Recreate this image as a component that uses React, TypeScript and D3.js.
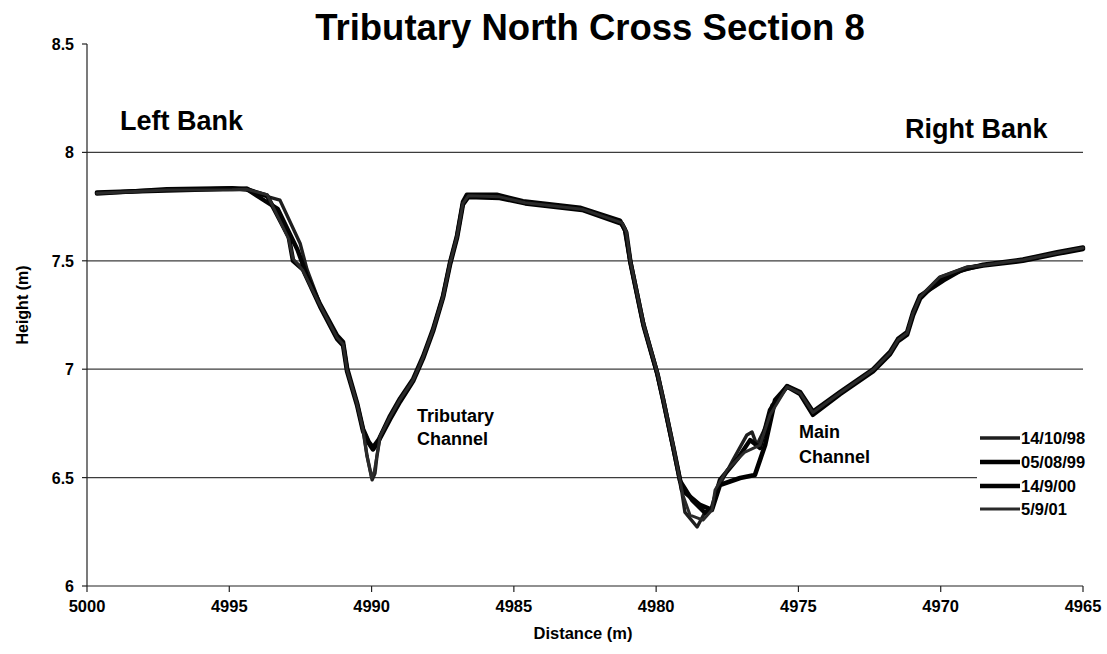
import React from "react";
import * as d3 from "d3";

const W = 1107;
const H = 654;
const M = { top: 44, right: 24, bottom: 68, left: 87 };

const xTicks = [5000, 4995, 4990, 4985, 4980, 4975, 4970, 4965];
const yTicks = [6, 6.5, 7, 7.5, 8, 8.5];
const yTickLabels = ["6", "6.5", "7", "7.5", "8", "8.5"];
const gridValues = [6.5, 7, 7.5, 8];

const seriesNames = ["14/10/98", "05/08/99", "14/9/00", "5/9/01"];

const dist98 = [4999.65, 4997.2, 4994.9, 4994.38, 4994.03, 4993.22, 4992.51, 4992.27, 4991.81, 4991.21, 4991.0, 4990.86, 4990.51, 4990.3, 4990.16, 4989.98, 4989.88, 4989.81, 4989.7, 4989.35, 4989.0, 4988.54, 4988.19, 4987.84, 4987.49, 4987.24, 4987.0, 4986.79, 4986.65, 4985.6, 4984.68, 4982.68, 4981.27, 4981.1, 4980.92, 4980.46, 4979.97, 4979.76, 4979.41, 4979.16, 4978.99, 4978.56, 4978.28, 4978.04, 4977.86, 4977.3, 4976.81, 4976.63, 4976.46, 4976.17, 4975.93, 4975.4, 4974.94, 4974.49, 4973.54, 4972.38, 4971.78, 4971.5, 4971.18, 4970.97, 4970.73, 4970.03, 4969.08, 4968.51, 4967.11, 4965.91, 4965.0];
const height98 = [7.813, 7.827, 7.83, 7.836, 7.81, 7.78, 7.58, 7.46, 7.3, 7.15, 7.12, 7.0, 6.84, 6.72, 6.6, 6.49, 6.52, 6.6, 6.69, 6.78, 6.86, 6.95, 7.056, 7.18, 7.333, 7.49, 7.61, 7.767, 7.8, 7.8, 7.77, 7.74, 7.68, 7.64, 7.5, 7.21, 6.98, 6.86, 6.64, 6.49, 6.341, 6.272, 6.341, 6.351, 6.443, 6.581, 6.697, 6.71, 6.65, 6.729, 6.835, 6.918, 6.89, 6.8, 6.89, 6.996, 7.075, 7.135, 7.167, 7.259, 7.333, 7.425, 7.471, 7.48, 7.504, 7.536, 7.559];

const dist99 = [4999.65, 4997.2, 4994.9, 4994.4, 4993.67, 4992.91, 4992.76, 4992.41, 4991.81, 4991.21, 4991.0, 4990.86, 4990.51, 4990.3, 4990.1, 4989.95, 4989.75, 4989.35, 4989.0, 4988.54, 4988.19, 4987.84, 4987.49, 4987.24, 4987.0, 4986.79, 4986.6, 4985.5, 4984.6, 4982.6, 4981.2, 4981.05, 4980.9, 4980.44, 4979.95, 4979.74, 4979.39, 4979.09, 4978.46, 4978.04, 4977.76, 4977.05, 4976.53, 4976.17, 4975.82, 4975.4, 4974.94, 4974.49, 4973.54, 4972.38, 4971.78, 4971.5, 4971.18, 4970.97, 4970.73, 4970.0, 4969.08, 4968.51, 4967.11, 4965.91, 4965.0];
const height99 = [7.815, 7.825, 7.832, 7.83, 7.8, 7.61, 7.5, 7.46, 7.29, 7.14, 7.11, 6.99, 6.835, 6.715, 6.66, 6.63, 6.67, 6.77, 6.85, 6.945, 7.05, 7.175, 7.33, 7.485, 7.605, 7.76, 7.795, 7.79, 7.765, 7.735, 7.67, 7.63, 7.49, 7.2, 6.975, 6.85, 6.635, 6.443, 6.374, 6.351, 6.466, 6.498, 6.512, 6.65, 6.858, 6.92, 6.885, 6.79, 6.885, 6.99, 7.07, 7.13, 7.16, 7.25, 7.325, 7.42, 7.465, 7.478, 7.5, 7.532, 7.555];

const dist00 = [4999.65, 4997.2, 4994.9, 4994.38, 4994.03, 4993.3, 4992.6, 4992.3, 4991.81, 4991.21, 4991.0, 4990.86, 4990.51, 4990.3, 4990.1, 4989.95, 4989.75, 4989.35, 4989.0, 4988.54, 4988.19, 4987.84, 4987.49, 4987.24, 4987.0, 4986.79, 4986.65, 4985.6, 4984.68, 4982.68, 4981.27, 4981.1, 4980.92, 4980.46, 4979.97, 4979.76, 4979.41, 4979.16, 4978.74, 4978.28, 4978.04, 4977.76, 4977.12, 4976.7, 4976.35, 4976.0, 4975.4, 4974.94, 4974.49, 4973.54, 4972.38, 4971.78, 4971.5, 4971.18, 4970.97, 4970.73, 4969.9, 4969.3, 4968.51, 4967.11, 4965.91, 4965.0];
const height00 = [7.81, 7.83, 7.835, 7.83, 7.8, 7.74, 7.55, 7.44, 7.3, 7.155, 7.125, 7.005, 6.845, 6.725, 6.665, 6.64, 6.675, 6.785, 6.865, 6.955, 7.06, 7.185, 7.338, 7.495, 7.615, 7.772, 7.805, 7.805, 7.775, 7.745, 7.685, 7.645, 7.505, 7.215, 6.985, 6.865, 6.645, 6.485, 6.397, 6.337, 6.36, 6.489, 6.59, 6.673, 6.637, 6.812, 6.922, 6.895, 6.805, 6.895, 7.0, 7.08, 7.14, 7.172, 7.264, 7.338, 7.41, 7.455, 7.482, 7.506, 7.54, 7.562];

const dist01 = [4999.65, 4997.2, 4994.9, 4994.4, 4993.67, 4992.91, 4992.76, 4992.41, 4991.81, 4991.21, 4991.0, 4990.86, 4990.51, 4990.3, 4990.16, 4990.0, 4989.9, 4989.8, 4989.7, 4989.35, 4989.0, 4988.54, 4988.19, 4987.84, 4987.49, 4987.24, 4987.0, 4986.79, 4986.6, 4985.5, 4984.6, 4982.6, 4981.2, 4981.05, 4980.9, 4980.44, 4979.95, 4979.74, 4979.39, 4979.06, 4978.81, 4978.35, 4978.04, 4977.93, 4977.51, 4976.88, 4976.35, 4976.0, 4975.4, 4974.94, 4974.49, 4973.54, 4972.38, 4971.78, 4971.5, 4971.18, 4970.97, 4970.73, 4970.03, 4969.08, 4968.51, 4967.11, 4965.91, 4965.0];
const height01 = [7.812, 7.826, 7.828, 7.83, 7.805, 7.6, 7.51, 7.455, 7.295, 7.145, 7.115, 6.995, 6.84, 6.72, 6.6, 6.5, 6.53, 6.61, 6.69, 6.78, 6.86, 6.95, 7.055, 7.18, 7.332, 7.49, 7.61, 7.765, 7.8, 7.795, 7.768, 7.738, 7.675, 7.635, 7.495, 7.205, 6.98, 6.855, 6.64, 6.42, 6.327, 6.304, 6.351, 6.443, 6.535, 6.618, 6.65, 6.789, 6.918, 6.89, 6.8, 6.89, 6.996, 7.075, 7.135, 7.167, 7.259, 7.333, 7.425, 7.471, 7.48, 7.504, 7.536, 7.559];

const seriesDist = [dist98, dist99, dist00, dist01];
const seriesHeight = [height98, height99, height00, height01];
const seriesStroke = ["#1e1e1e", "#000000", "#030303", "#2a2a2a"];
const seriesWidth = [3.4, 4.6, 4.4, 3];

const FONT = "'Liberation Sans', Arial, Helvetica, sans-serif";

export default function App() {
  const x = d3.scaleLinear().domain([5000, 4965]).range([M.left, W - M.right]);
  const y = d3.scaleLinear().domain([6, 8.5]).range([H - M.bottom, M.top]);

  const line = d3
    .line<[number, number]>()
    .x((d) => x(d[0]))
    .y((d) => y(d[1]));

  const paths = seriesDist.map((ds, i) =>
    line(ds.map((d, j) => [d, seriesHeight[i][j]] as [number, number]))
  );

  const legendX = 980;
  const legendY = [438, 462, 486, 509];

  return (
    <div style={{ position: "absolute", left: 0, top: 0, background: "#fff" }}>
      <svg width={W} height={H} style={{ display: "block", fontFamily: FONT }}>
        <rect x={0} y={0} width={W} height={H} fill="#fff" />
        {gridValues.map((g) => (
          <line key={g} x1={x(5000)} x2={x(4965)} y1={y(g)} y2={y(g)} stroke="#3c3c3c" strokeWidth={1.2} />
        ))}
        <line x1={x(5000)} x2={x(5000)} y1={y(8.5)} y2={y(6)} stroke="#222" strokeWidth={1.2} />
        <line x1={x(5000)} x2={x(4965)} y1={y(6)} y2={y(6)} stroke="#222" strokeWidth={1.2} />
        {yTicks.map((t, i) => (
          <g key={t}>
            <line x1={x(5000) - 5} x2={x(5000)} y1={y(t)} y2={y(t)} stroke="#222" strokeWidth={1.2} />
            <text x={74} y={y(t) + 6} textAnchor="end" fontSize={16} fontWeight="bold" fill="#000">
              {yTickLabels[i]}
            </text>
          </g>
        ))}
        {xTicks.map((t) => (
          <g key={t}>
            <line x1={x(t)} x2={x(t)} y1={y(6)} y2={y(6) + 6} stroke="#222" strokeWidth={1.2} />
            <text x={x(t)} y={612} textAnchor="middle" fontSize={16.5} fontWeight="bold" fill="#000">
              {t}
            </text>
          </g>
        ))}
        {paths.map((p, i) => (
          <path key={i} d={p || ""} fill="none" stroke={seriesStroke[i]} strokeWidth={seriesWidth[i]} strokeLinejoin="round" strokeLinecap="round" />
        ))}
        <text x={590} y={40} textAnchor="middle" fontSize={36.5} fontWeight="bold" fill="#000">
          Tributary North Cross Section 8
        </text>
        <text x={120} y={130} fontSize={27} fontWeight="bold" fill="#000">Left Bank</text>
        <text x={905} y={138} fontSize={27} fontWeight="bold" fill="#000">Right Bank</text>
        <text x={417} y={422} fontSize={18} fontWeight="bold" fill="#000">Tributary</text>
        <text x={417} y={445} fontSize={18} fontWeight="bold" fill="#000">Channel</text>
        <text x={799} y={438} fontSize={18} fontWeight="bold" fill="#000">Main</text>
        <text x={799} y={463} fontSize={18} fontWeight="bold" fill="#000">Channel</text>
        <text x={583} y={639} textAnchor="middle" fontSize={16.5} fontWeight="bold" fill="#000">Distance (m)</text>
        <text transform={`translate(28,${(y(8.5) + y(6)) / 2 - 10}) rotate(-90)`} textAnchor="middle" fontSize={16} fontWeight="bold" fill="#000">
          Height (m)
        </text>
        <rect x={977} y={425} width={W - 977} height={96} fill="#fff" />
        {seriesNames.map((n, i) => (
          <g key={n}>
            <line x1={legendX} x2={legendX + 40} y1={legendY[i]} y2={legendY[i]} stroke={seriesStroke[i]} strokeWidth={seriesWidth[i]} />
            <text x={legendX + 41} y={legendY[i] + 6} fontSize={16.5} fontWeight="bold" fill="#000">{n}</text>
          </g>
        ))}
      </svg>
    </div>
  );
}
